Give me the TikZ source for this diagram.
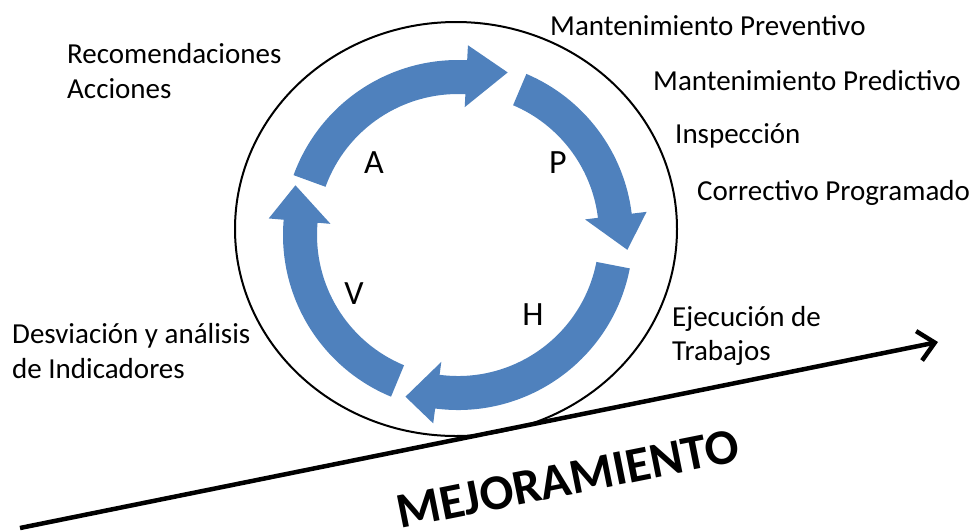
\documentclass[tikz,border=0pt]{standalone}
\usepackage{fontspec}
\setmainfont{Carlito}
\usetikzlibrary{arrows.meta}
\definecolor{pdcablue}{RGB}{79,129,189}
% one curved block arrow of the cycle: tail angle, head base angle, tip angle
\newcommand{\cyclearrow}[3]{%
  \fill [pdcablue] (#1:175) arc [start angle=#1, end angle=#2, radius=175]
    -- (#2:190) -- (#3:170) -- (#2:128) -- (#2:141)
    arc [start angle=#2, end angle=#1, radius=141] -- cycle;}

\begin{document}
\begin{tikzpicture}[x=1pt,y=1pt]
\tikzstyle{every node}+=[inner sep=0pt, font=\fontsize{29}{35}\selectfont]
\tikzstyle{sidetext}=[anchor=base west]
\tikzstyle{pdcaletter}=[anchor=base, font=\fontsize{34}{40}\selectfont]
\useasboundingbox (0,0) rectangle (974,-531);
\draw [black, line width=2] (456,-229) ellipse [x radius=221, y radius=207];
\begin{scope}[shift={(458,-235)}]
\cyclearrow{160}{87}{73}
\cyclearrow{67}{7}{-5}
\cyclearrow{-11}{-97.5}{-108}
\cyclearrow{-112.5}{-185}{-197}
\end{scope}
\node (a) [pdcaletter] at (374,-173) {A};
\node (p) [pdcaletter] at (558,-173) {P};
\node (h) [pdcaletter] at (533,-325) {H};
\node (v) [pdcaletter] at (354,-304) {V};
\node (prev) [sidetext] at (550,-35) {Mantenimiento Preventivo};
\node (pred) [sidetext] at (653,-90) {Mantenimiento Predictivo};
\node (insp) [sidetext] at (675,-143) {Inspección};
\node (corr) [sidetext] at (697,-200) {Correctivo Programado};
\node (rec) [sidetext] at (67,-63) {Recomendaciones};
\node (acc) [sidetext] at (67,-98) {Acciones};
\node (desv) [sidetext] at (12,-343) {Desviación y análisis};
\node (ind) [sidetext] at (12,-378) {de Indicadores};
\node (ejec) [sidetext] at (672,-326) {Ejecución de};
\node (trab) [sidetext] at (672,-360) {Trabajos};
\coordinate (low) at (20,-528);
\coordinate (high) at (938,-342);
\draw [black, line width=4.5, -{Straight Barb[length=16pt,width=30pt]}] (low) -- (high);
\node (mejora) [sidetext, rotate=11.3, font=\fontsize{50}{56}\selectfont\bfseries] at (400,-529) {MEJORAMIENTO};
\end{tikzpicture}
\end{document}
